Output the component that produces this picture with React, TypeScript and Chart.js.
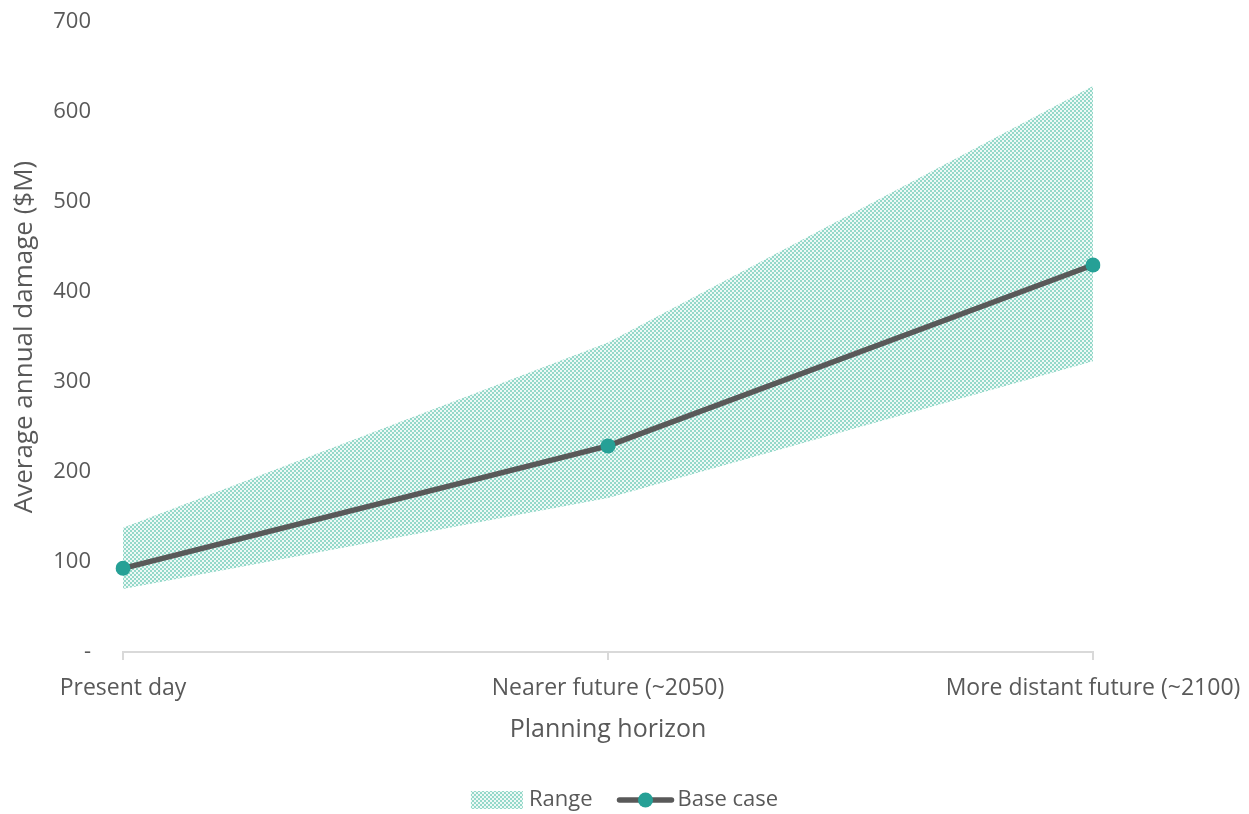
import React, { useEffect, useRef } from "react";
import { Chart, registerables } from "chart.js";

Chart.register(...registerables);

const horizons = ["Present day", "Nearer future (~2050)", "More distant future (~2100)"];
const baseCase = [93, 229, 430];
const rangeHigh = [138, 344, 629];
const rangeLow = [70, 171, 323];
const yTicks = [0, 100, 200, 300, 400, 500, 600, 700];

const FONT = "'Open Sans', 'Noto Sans', sans-serif";
const TEXT = "#595959";
const TEAL = "#26a096";
const LINE = "#595959";
const AXIS = "#d9d9d9";

// Small checkered tile used as the fill of the range band and its legend swatch
function makeHatch(ctx: CanvasRenderingContext2D): CanvasPattern | string {
  const c = document.createElement("canvas");
  c.width = 4;
  c.height = 4;
  const g = c.getContext("2d");
  if (!g) return "#a8ddd1";
  g.fillStyle = "#eef9f6";
  g.fillRect(0, 0, 4, 4);
  g.fillStyle = "#94d8c9";
  g.fillRect(0, 0, 2, 2);
  g.fillRect(2, 2, 2, 2);
  return ctx.createPattern(c, "repeat") || "#a8ddd1";
}

export default function App() {
  const ref = useRef<HTMLCanvasElement | null>(null);

  useEffect(() => {
    const canvas = ref.current;
    if (!canvas) return;
    const ctx = canvas.getContext("2d");
    if (!ctx) return;
    const hatch = makeHatch(ctx);

    const legendPlugin = {
      id: "bottomLegend",
      afterDraw(chart: Chart) {
        const c = chart.ctx;
        c.save();
        c.font = `22px ${FONT}`;
        const y = 800;
        const boxW = 52;
        const lineW = 56;
        const w1 = c.measureText("Range").width;
        const w2 = c.measureText("Base case").width;
        const total = boxW + 6 + w1 + 25 + lineW + 4 + w2;
        let x = chart.width / 2 - total / 2;
        c.fillStyle = hatch as any;
        c.fillRect(x, y - 9, boxW, 18);
        x += boxW + 6;
        c.fillStyle = TEXT;
        c.textBaseline = "middle";
        c.textAlign = "left";
        c.fillText("Range", x, y);
        x += w1 + 25;
        c.strokeStyle = LINE;
        c.lineWidth = 5.5;
        c.lineCap = "round";
        c.beginPath();
        c.moveTo(x + 2, y);
        c.lineTo(x + lineW - 2, y);
        c.stroke();
        c.fillStyle = TEAL;
        c.beginPath();
        c.arc(x + lineW / 2, y, 7.5, 0, Math.PI * 2);
        c.fill();
        x += lineW + 4;
        c.fillStyle = TEXT;
        c.fillText("Base case", x, y);
        c.restore();
      },
    };

    const chart = new Chart(canvas, {
      type: "line",
      data: {
        labels: horizons,
        datasets: [
          {
            label: "Base case",
            data: baseCase,
            borderColor: LINE,
            borderWidth: 5.5,
            backgroundColor: TEAL,
            pointBackgroundColor: TEAL,
            pointBorderWidth: 0,
            pointRadius: 7.5,
            fill: false,
            tension: 0,
          },
          {
            label: "Range",
            data: rangeHigh,
            borderWidth: 0,
            borderColor: "rgba(0,0,0,0)",
            backgroundColor: hatch as any,
            pointRadius: 0,
            fill: "+1",
            tension: 0,
          },
          {
            label: "Range low",
            data: rangeLow,
            borderWidth: 0,
            borderColor: "rgba(0,0,0,0)",
            pointRadius: 0,
            fill: false,
            tension: 0,
          },
        ],
      },
      options: {
        animation: false,
        responsive: true,
        maintainAspectRatio: false,
        layout: { padding: { top: 22, right: 156, bottom: 60, left: 0 } },
        plugins: {
          legend: { display: false },
          tooltip: { enabled: false },
        },
        scales: {
          x: {
            type: "category",
            offset: false,
            grid: {
              display: true,
              drawOnChartArea: false,
              drawTicks: true,
              tickLength: 8,
              color: AXIS,
              lineWidth: 2,
            },
            border: { display: true, color: AXIS, width: 2 },
            ticks: {
              color: TEXT,
              font: { family: FONT, size: 23 },
              padding: 15,
              maxRotation: 0,
              autoSkip: false,
            },
            title: {
              display: true,
              text: "Planning horizon",
              color: TEXT,
              font: { family: FONT, size: 25 },
              padding: { top: 0, bottom: 9 },
            },
            afterFit(scale: any) {
              scale.height = 102;
              scale.paddingLeft = 0;
              scale.paddingRight = 0;
            },
          },
          y: {
            min: 0,
            max: 700,
            afterBuildTicks(scale: any) {
              scale.ticks = yTicks.map((v) => ({ value: v }));
            },
            grid: { display: false, drawTicks: false },
            border: { display: false },
            ticks: {
              color: TEXT,
              font: { family: FONT, size: 22 },
              padding: 32,
              callback: (v: any) => (Number(v) === 0 ? "-" : String(v)),
            },
            title: {
              display: true,
              text: "Average annual damage ($M)",
              color: TEXT,
              font: { family: FONT, size: 26 },
              padding: { top: 9, bottom: 0 },
            },
            afterFit(scale: any) {
              scale.width = 123;
              scale.paddingTop = 0;
              scale.paddingBottom = 0;
            },
          },
        },
      },
      plugins: [legendPlugin],
    });

    return () => chart.destroy();
  }, []);

  return (
    <div style={{ position: "absolute", left: 0, top: 0, width: 1249, height: 814 }}>
      <canvas ref={ref} />
    </div>
  );
}
